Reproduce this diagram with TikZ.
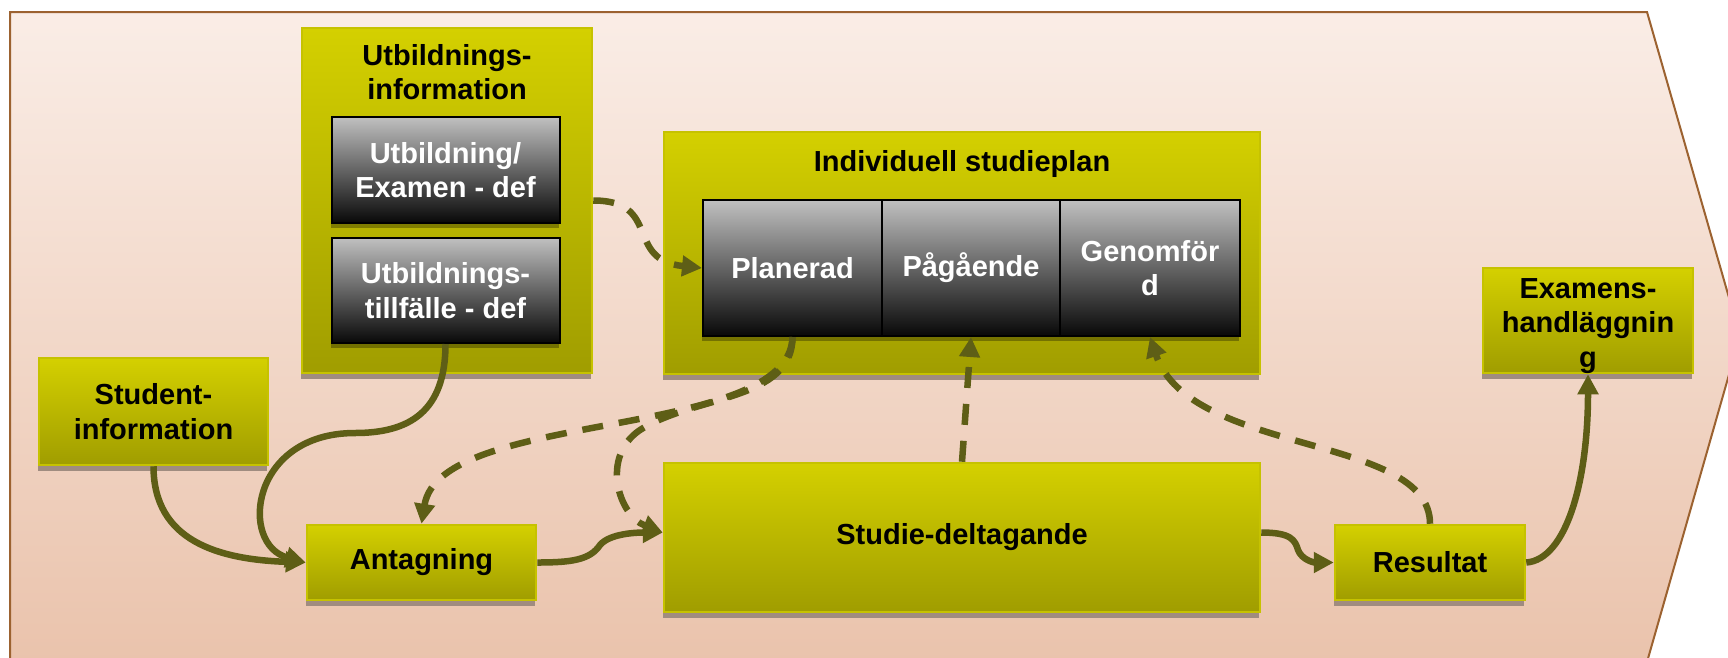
\documentclass[tikz,border=0pt]{standalone}
\usepackage{fontspec}
\setmainfont{Liberation Sans}
\usetikzlibrary{arrows.meta,calc}
\definecolor{bgtop}{RGB}{250,237,230}
\definecolor{bgbot}{RGB}{234,195,172}
\definecolor{bgline}{RGB}{156,98,48}
\definecolor{gtop}{RGB}{212,208,0}
\definecolor{gbot}{RGB}{160,157,0}
\definecolor{gline}{RGB}{198,194,0}
\definecolor{ktop}{RGB}{192,192,192}
\definecolor{kbot}{RGB}{8,8,8}
\definecolor{conn}{RGB}{94,94,22}
\definecolor{shadowc}{RGB}{160,140,128}
\begin{document}
\begin{tikzpicture}[x=1pt,y=-1pt,
  every node/.style={font=\fontsize{29}{34.5}\selectfont\bfseries, inner sep=0pt, align=center},
  gbox/.style={rectangle, top color=gtop, bottom color=gbot, draw=gline, line width=2.5pt, text=black,
    preaction={fill=shadowc, transform canvas={xshift=-1pt,yshift=-6pt}}},
  kbox/.style={rectangle, top color=ktop, bottom color=kbot, draw=black, line width=2pt, text=white,
    preaction={fill=black, fill opacity=0.3, transform canvas={xshift=-1pt,yshift=-5pt}}},
  flow/.style={draw=conn, line width=6.5pt, -{Triangle[length=20pt,width=20pt]}},
  dflow/.style={flow, dash pattern=on 21pt off 16pt},
]
\useasboundingbox (0,0) rectangle (1728,657);
\fill[white] (0,0) rectangle (1728,657);
\clip (0,0) rectangle (1728,657);
% background chevron
\path[top color=bgtop, bottom color=bgbot, draw=bgline, line width=2pt]
  (10,12) -- (1647,12) -- (1740,336) -- (1647,662) -- (10,662) -- cycle;

% boxes
\node[gbox, minimum width=290, minimum height=345] (utbinfo) at (447,200.5) {};
\node (utbtitle) at (447,72) {Utbildnings-\\information};
\node[kbox, minimum width=228, minimum height=106] (utbexamen) at (445.5,170) {Utbildning/\\Examen - def};
\node[kbox, minimum width=228, minimum height=105] (utbtillf) at (445.5,290.5) {Utbildnings-\\tillfälle - def};

\node[gbox, minimum width=229, minimum height=107] (student) at (153.5,411.5) {Student-\\information};
\node[gbox, minimum width=229, minimum height=75] (antagning) at (421.5,562.5) {Antagning};

\node[gbox, minimum width=596, minimum height=242] (isp) at (962,253) {};
\node (isptitle) at (962,163.5) {Individuell studieplan};
\node[kbox, minimum width=179, minimum height=136] (planerad) at (792.5,268) {Planerad};
\node[kbox, minimum width=178, minimum height=136] (pagaende) at (971,268) {Pågående};
\node[kbox, minimum width=180, minimum height=136] (genomford) at (1150,268) {Genomför\\d};

\node[gbox, minimum width=596, minimum height=149] (studie) at (962,537.5) {Studie-deltagande};
\node[gbox, minimum width=190, minimum height=75] (resultat) at (1430,562.5) {Resultat};
\node[gbox, minimum width=210, minimum height=105] (examens) at (1588,320.5) {};
\node (examenstext) at (1588,326) {Examens-\\handläggnin\\g};

% solid connectors
\draw[flow] (student.south) .. controls +(0,75) and +(-87,-3) .. (antagning.west);
\draw[flow] (utbtillf.south) .. controls +(0,67) and +(55,0) .. (355,433)
  .. controls +(-105,0) and +(-67,-18) .. (antagning.west);
\draw[flow] (antagning.east) .. controls +(34,0) and +(-10,15) .. (600,545)
  .. controls +(10,-12) and +(-24,0) .. ($(studie.west)+(0,-5)$);
\draw[flow] ($(studie.east)+(0,-5)$) .. controls +(30,0) and +(-3,-10) .. (1298,550)
  .. controls +(4,10) and +(-20,0) .. (resultat.west);
\draw[flow] (resultat.east) .. controls +(40,-3) and +(0,107) .. (examens.south);

% dashed connectors
\draw[dflow] (utbinfo.east) .. controls +(69,0) and +(-78,-8) .. (planerad.west);
\draw[dflow] (planerad.south) .. controls +(-2.5,104) and +(18.5,-115) .. (antagning.north);
\draw[dflow] (planerad.south) .. controls +(0,64) and +(55,-35) .. (640,430)
  .. controls +(-40,27) and +(-44,-17) .. ($(studie.west)+(0,-5)$);
\draw[dflow] (studie.north) -- (pagaende.south);
\draw[dflow] (resultat.north) .. controls +(0,-90) and +(40,119) .. (genomford.south);
\end{tikzpicture}
\end{document}
